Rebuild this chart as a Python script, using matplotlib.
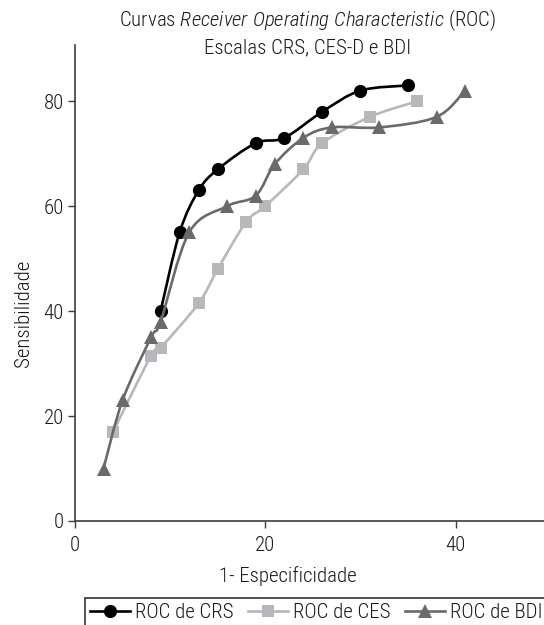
import matplotlib
matplotlib.use("Agg")
import matplotlib.pyplot as plt
from matplotlib import font_manager
from matplotlib.path import Path
from matplotlib.patches import PathPatch
from matplotlib.lines import Line2D
import numpy as np

# ---------------- data ----------------
crs_x = [9, 11, 13, 15, 19, 22, 26, 30, 35]
crs_y = [40, 55, 63, 67, 72, 73, 78, 82, 83]

ces_x = [4, 8, 9, 13, 15, 18, 20, 24, 26, 31, 36]
ces_y = [17, 31.5, 33, 41.5, 48, 57, 60, 67, 72, 77, 80]

bdi_x = [3, 5, 8, 9, 12, 16, 19, 21, 24, 27, 32, 38, 41]
bdi_y = [10, 23, 35, 38, 55, 60, 62, 68, 73, 75, 75, 77, 82]

series_labels = ["ROC de CRS", "ROC de CES", "ROC de BDI"]
x_ticks = [0, 20, 40]
y_ticks = [0, 20, 40, 60, 80]

# ---------------- fonts ----------------
names = {f.name for f in font_manager.fontManager.ttflist}
base = "Roboto Condensed" if "Roboto Condensed" in names else "DejaVu Sans"
plt.rcParams["font.family"] = [base, "DejaVu Sans"]
plt.rcParams["font.weight"] = "light"
plt.rcParams["axes.labelweight"] = "light"
plt.rcParams["mathtext.fontset"] = "custom"
plt.rcParams["mathtext.rm"] = base + ":weight=light"
plt.rcParams["mathtext.it"] = base + ":style=italic:weight=light"

FS = 15
TXT = "#1a1a1a"
AX_COL = "#3c3c3c"

fig = plt.figure(figsize=(5.44, 6.25), dpi=100)
W, H = 544, 625
ax = fig.add_axes([75 / W, 104 / H, 469 / W, 476 / H])
ax.set_xlim(0, 49.3)
ax.set_ylim(0, 90.7)


def smooth_path(xs, ys):
    pts = np.column_stack([xs, ys]).astype(float)
    n = len(pts)
    verts = [pts[0]]
    codes = [Path.MOVETO]
    for i in range(n - 1):
        p0 = pts[i - 1] if i > 0 else pts[i]
        p1 = pts[i]
        p2 = pts[i + 1]
        p3 = pts[i + 2] if i + 2 < n else pts[i + 1]
        c1 = p1 + (p2 - p0) / 6.0
        c2 = p2 - (p3 - p1) / 6.0
        verts += [c1, c2, p2]
        codes += [Path.CURVE4] * 3
    return Path(verts, codes)


styles = [
    dict(x=crs_x, y=crs_y, color="#000000", marker="o", ms=9.5, z=3),
    dict(x=ces_x, y=ces_y, color="#b6b8bb", marker="s", ms=8.5, z=4),
    dict(x=bdi_x, y=bdi_y, color="#6a6a6a", marker="^", ms=10.5, z=5),
]

handles = []
for st, lab in zip(styles, series_labels):
    patch = PathPatch(smooth_path(st["x"], st["y"]), fill=False,
                      edgecolor=st["color"], linewidth=1.9, zorder=st["z"],
                      capstyle="round", joinstyle="round")
    ax.add_patch(patch)
    ax.plot(st["x"], st["y"], linestyle="none", marker=st["marker"],
            markersize=st["ms"], color=st["color"], markeredgewidth=0,
            zorder=st["z"] + 0.1, clip_on=False)
    handles.append(Line2D([], [], color=st["color"], linewidth=1.9,
                          marker=st["marker"], markersize=st["ms"],
                          markeredgewidth=0, label=lab))

# axes styling
for s in ["top", "right"]:
    ax.spines[s].set_visible(False)
for s in ["left", "bottom"]:
    ax.spines[s].set_color(AX_COL)
    ax.spines[s].set_linewidth(1.2)
ax.set_xticks(x_ticks)
ax.set_yticks(y_ticks)
ax.tick_params(axis="both", direction="out", length=5, width=1.0,
               color=AX_COL, labelsize=FS, labelcolor=TXT)
ax.tick_params(axis="x", pad=6)
ax.tick_params(axis="y", pad=3)

ax.set_xlabel("1- Especificidade", fontsize=FS, color=TXT, fontweight="light")
ax.xaxis.set_label_coords(0.453, -0.095)
ax.set_ylabel("Sensibilidade", fontsize=FS, color=TXT, fontweight="light")
ax.yaxis.set_label_coords(-0.09, 0.437)

# title
fig.text(308 / W, 1 - 20 / H,
         r"Curvas $\mathit{Receiver\ Operating\ Characteristic}$ (ROC)",
         ha="center", va="center", fontsize=FS, color=TXT)
fig.text(308 / W, 1 - 48 / H, "Escalas CRS, CES-D e BDI",
         ha="center", va="center", fontsize=FS, color=TXT)

leg = fig.legend(handles=handles, loc="upper left",
                 bbox_to_anchor=(85 / W, 1 - 598 / H), ncol=3,
                 fontsize=FS, frameon=True, fancybox=False, shadow=False,
                 handlelength=1.9, handletextpad=0.25, columnspacing=0.7,
                 borderpad=0.25, borderaxespad=0.0)
leg.get_frame().set_edgecolor("#000000")
leg.get_frame().set_linewidth(1.2)
for t in leg.get_texts():
    t.set_color(TXT)

fig.savefig("out.png", dpi=100)
